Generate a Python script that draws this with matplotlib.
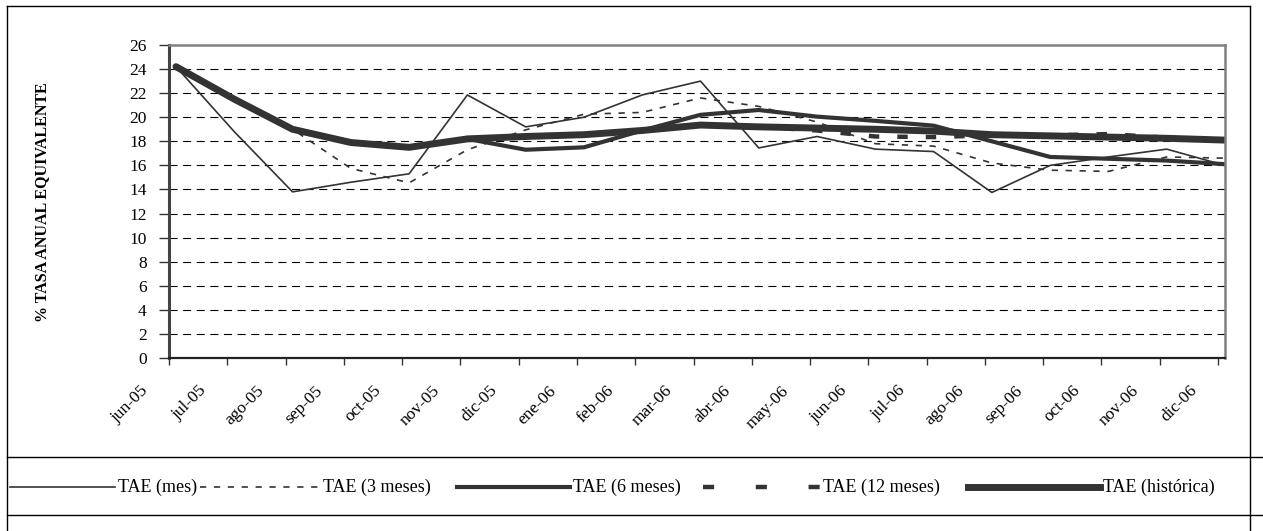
import matplotlib
matplotlib.use("Agg")
import matplotlib.pyplot as plt
import matplotlib.transforms as mtransforms
from matplotlib.lines import Line2D
import numpy as np

# datos (TAE en %)
meses = ["jun-05", "jul-05", "ago-05", "sep-05", "oct-05", "nov-05", "dic-05",
         "ene-06", "feb-06", "mar-06", "abr-06", "may-06", "jun-06", "jul-06",
         "ago-06", "sep-06", "oct-06", "nov-06", "dic-06"]
tae_mes = [24.2, 18.8, 13.8, 14.6, 15.3, 21.85, 19.2, 20.0, 21.85, 23.0, 17.45,
           18.4, 17.35, 17.15, 13.75, 16.0, 16.7, 17.35, 16.0]
tae_3m = [24.2, 21.5, 19.0, 15.75, 14.55, 17.3, 18.95, 20.25, 20.4, 21.6, 20.9,
          19.6, 17.8, 17.6, 16.2, 15.6, 15.5, 16.7, 16.6]
tae_6m = [24.2, 21.5, 19.0, 17.9, 17.5, 18.2, 17.3, 17.5, 18.9, 20.2, 20.6,
          20.05, 19.7, 19.3, 18.0, 16.7, 16.55, 16.4, 16.1]
tae_12m = [24.2, 21.5, 19.0, 17.9, 17.5, 18.2, 18.4, 18.55, 18.9, 19.35, 19.2,
           18.9, 18.4, 18.35, 18.5, 18.5, 18.6, 18.3, 18.1]
tae_hist = [24.2, 21.5, 19.0, 17.9, 17.5, 18.2, 18.4, 18.55, 18.9, 19.35, 19.2,
            19.1, 19.0, 18.85, 18.55, 18.45, 18.35, 18.25, 18.1]
yticks = np.arange(0, 27, 2)

plt.rcParams["lines.scale_dashes"] = False
fuente = ["Liberation Serif", "DejaVu Serif"]
gris = "#333333"

W, H = 1263, 531
fig = plt.figure(figsize=(W / 100, H / 100), dpi=100)

# capa de fondo en pixeles: marco y leyenda
bg = fig.add_axes([0, 0, 1, 1])
bg.set_xlim(0, W)
bg.set_ylim(H, 0)
bg.axis("off")
bg.plot([7, 7], [6, H], color="black", lw=1)
bg.plot([1250, 1250], [6, H], color="black", lw=1)
bg.plot([7, 1250], [6, 6], color="black", lw=1)
bg.plot([7, W], [457, 457], color="black", lw=1)
bg.plot([7, W], [515, 515], color="black", lw=1)

ax = fig.add_axes([169 / W, 1 - 358 / H, (1225 - 169) / W, (358 - 45) / H])
x = np.arange(len(meses))

series = [
    (tae_mes, "TAE (mes)", dict(lw=1.2, ls="-")),
    (tae_3m, "TAE (3 meses)", dict(lw=1.2, ls=(0, (4.5, 5.5)))),
    (tae_6m, "TAE (6 meses)", dict(lw=3.0, ls="-")),
    (tae_12m, "TAE (12 meses)", dict(lw=3.2, ls=(0, (7.5, 13.0)))),
    (tae_hist, "TAE (histórica)", dict(lw=5.0, ls="-")),
]
for vals, nombre, st in series:
    ax.plot(x, vals, color=gris, solid_capstyle="round", **st)

# rejilla discontinua
for v in yticks[1:-1]:
    ax.axhline(v, color="black", lw=0.8, ls=(0, (5.8, 4.0)), zorder=0)

ax.set_xlim(-0.12, 18)
ax.set_ylim(0, 26)
ax.set_yticks(yticks)
ax.set_yticklabels([str(v) for v in yticks], fontfamily=fuente, fontsize=12.5)
ax.set_xticks(x - 0.12)
ax.set_xticklabels(meses, rotation=45, ha="right", va="top",
                   rotation_mode="anchor", fontfamily=fuente, fontsize=12.5)
ax.tick_params(axis="y", length=7, width=1, pad=9, color=gris)
ax.tick_params(axis="x", length=5, width=1, pad=2, color=gris)
off = mtransforms.ScaledTranslation(-29 / 100, -15 / 100, fig.dpi_scale_trans)
for lab in ax.get_xticklabels():
    lab.set_transform(lab.get_transform() + off)

for s in ["top", "right"]:
    ax.spines[s].set_color("#808080")
    ax.spines[s].set_linewidth(1.8)
ax.spines["left"].set_color("#444444")
ax.spines["left"].set_linewidth(2.2)
ax.spines["bottom"].set_color("#222222")
ax.spines["bottom"].set_linewidth(1.6)

fig.text(42 / W, 1 - 202 / H, "% TASA ANUAL EQUIVALENTE", rotation=90,
         ha="center", va="center", fontfamily=fuente, fontweight="bold",
         fontsize=11.5)

# leyenda manual en la fila inferior
pos_ley = [(10, 115), (200, 320), (457, 570), (703, 820), (968, 1100)]
for (vals, nombre, st), (x0, x1) in zip(series, pos_ley):
    st_ley = dict(st)
    if nombre == "TAE (12 meses)":
        st_ley["ls"] = (0, (8.0, 30.0))
    bg.add_line(Line2D([x0, x1], [487, 487], color=gris, **st_ley))
    bg.text(x1 + 3, 487, nombre, ha="left", va="center", fontfamily=fuente,
            fontsize=13)

fig.savefig("out.png", dpi=100)
